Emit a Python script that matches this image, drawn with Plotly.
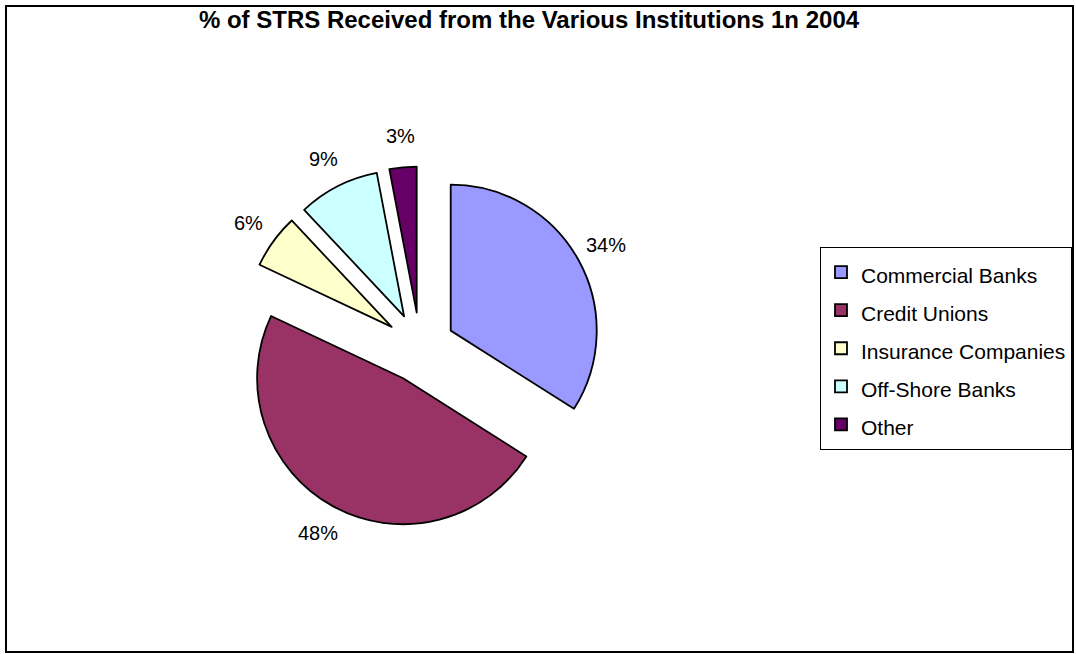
import math
import plotly.graph_objects as go

# Share of suspicious transaction reports (STRs) by reporting institution, 2004
institutions = ["Commercial Banks", "Credit Unions", "Insurance Companies",
                "Off-Shore Banks", "Other"]
share_pct = [34, 48, 6, 9, 3]
slice_colors = ["#9999FF", "#993366", "#FFFFCC", "#CCFFFF", "#660066"]
title_text = "% of STRS Received from the Various Institutions 1n 2004"

W, H = 1076, 654
FONT = "Arial, Liberation Sans, sans-serif"

# pie placement in page pixels
cx, cy = 420, 347.5
pull = 0.24
radius = 146
half = radius * (1 + pull)
label_gap = 31          # distance of percent labels beyond the slice arc

fig = go.Figure(
    go.Pie(
        labels=[f"<span style='font-size:21px'>{n}</span>" for n in institutions],
        values=share_pct,
        sort=False,
        direction="clockwise",
        rotation=0,
        pull=[pull] * len(share_pct),
        marker=dict(colors=slice_colors, line=dict(color="black", width=1.8)),
        textinfo="none",
        hoverinfo="label+percent",
        domain=dict(
            x=[(cx - half) / W, (cx + half) / W],
            y=[1 - (cy + half) / H, 1 - (cy - half) / H],
        ),
    )
)

# percent labels just outside each (pulled) slice, at the slice's mid-angle
total = sum(share_pct)
annotations = []
cum = 0
for v in share_pct:
    mid = (cum + v / 2) / total * 2 * math.pi   # clockwise from 12 o'clock
    cum += v
    dx, dy = math.sin(mid), -math.cos(mid)
    dist = radius * pull + radius + label_gap
    px, py = cx + dist * dx, cy + dist * dy
    annotations.append(dict(
        x=px / W, y=1 - py / H, xref="paper", yref="paper",
        text=f"{round(v / total * 100)}%", showarrow=False,
        xanchor="center", yanchor="middle",
        font=dict(family=FONT, size=20, color="black"),
    ))

fig.update_layout(
    width=W,
    height=H,
    margin=dict(l=0, r=0, t=0, b=0),
    paper_bgcolor="white",
    plot_bgcolor="white",
    font=dict(family=FONT, color="black"),
    title=dict(
        text=f"<b>{title_text}</b>",
        font=dict(family=FONT, size=24, color="black"),
        x=529 / W,
        xanchor="center",
        y=1 - 20 / H,
        yanchor="middle",
    ),
    legend=dict(
        x=1072 / W,
        xanchor="right",
        y=1 - 247 / H,
        yanchor="top",
        bgcolor="white",
        bordercolor="black",
        borderwidth=1,
        font=dict(family=FONT, size=27, color="black"),
        itemwidth=30,
    ),
    annotations=annotations,
    shapes=[
        dict(
            type="rect", xref="paper", yref="paper",
            x0=6 / W, x1=1073 / W, y0=1 - 652 / H, y1=1 - 6 / H,
            line=dict(color="black", width=2), fillcolor="rgba(0,0,0,0)",
            layer="below",
        )
    ],
)

fig.write_html("out.html")
